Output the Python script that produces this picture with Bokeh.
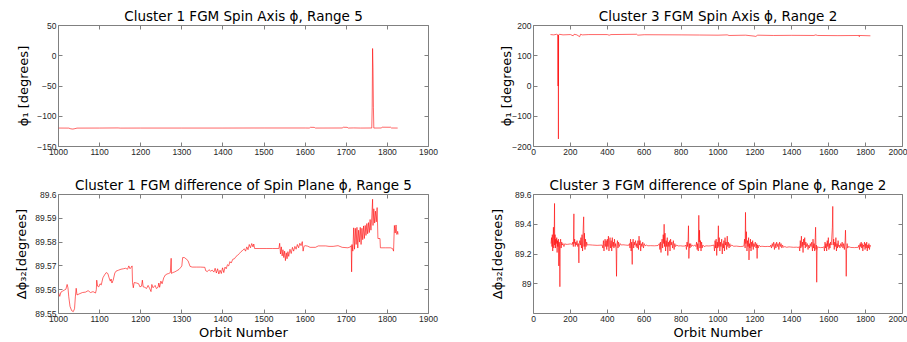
from bokeh.plotting import figure
from bokeh.layouts import column, row
from bokeh.models import FixedTicker, NumeralTickFormatter, LinearAxis, Range1d, CustomJSTickFormatter
from bokeh.embed import file_html
from bokeh.resources import INLINE

# ---------------- data ----------------
# Cluster 1, spin axis phi (range 5)
c1_phi_orbit = [1000, 1025, 1030, 1035, 1040, 1045, 1100, 1145, 1150, 1200, 1300, 1400, 1500,
                1600, 1610, 1613, 1622, 1625, 1690, 1693, 1702, 1705, 1718, 1735, 1760,
                1762, 1763, 1764, 1765, 1766, 1767, 1785, 1787, 1808, 1810, 1825]
c1_phi = [-119.5, -119.6, -120.8, -121.2, -120.5, -119.6, -119.5, -119.3, -119.6, -119.5, -119.5, -119.5, -119.4,
          -119.4, -119.5, -118.3, -118.4, -119.5, -119.4, -118.2, -118.3, -119.5, -119.3, -119.5, -119.4,
          -119.5, -85.0, 12.0, -20.0, -85.0, -119.5, -119.4, -118.1, -118.2, -119.4, -119.5]

# Cluster 3, spin axis phi (range 2)
c3_phi_orbit = [92, 110, 125, 132, 133, 134, 135, 136, 140, 160, 200, 215, 220, 235, 250, 255, 265,
                300, 400, 410, 420, 560, 565, 600, 800, 900, 1000, 1050, 1060, 1150, 1195, 1205,
                1215, 1300, 1400, 1520, 1530, 1540, 1650, 1765, 1766, 1767, 1826]
c3_phi = [170, 169, 171, 169, 0, 169, -175, 168, 171, 169, 170, 166, 171, 169, 163, 171, 169,
          170, 170, 168, 170, 171, 168, 169.5, 169, 168.5, 168, 169, 167, 168, 165, 164,
          168, 167, 167.5, 167, 169, 167, 166.5, 167, 163, 167, 166]

# Cluster 1, difference of spin plane phi (range 5)
c1_dphi_orbit = [1000, 1003, 1006, 1010, 1014, 1018, 1021, 1023, 1025, 1028, 1032, 1036, 1039, 1041, 1043, 1045,
                 1050, 1058, 1066, 1072, 1078, 1084, 1090, 1092, 1093, 1095, 1098, 1101, 1104, 1108, 1112,
                 1116, 1120, 1123, 1126, 1128, 1130, 1133, 1137, 1140, 1146, 1152, 1158, 1163, 1168, 1171,
                 1174, 1177, 1179, 1180, 1182, 1184, 1190, 1195, 1198, 1202, 1204, 1206, 1210, 1214, 1218,
                 1222, 1225, 1227, 1230, 1235, 1238, 1242, 1244, 1246, 1249, 1252, 1256, 1260, 1264, 1268,
                 1272, 1274, 1275, 1278, 1283, 1288, 1293, 1298, 1300, 1302, 1306, 1310, 1315, 1318, 1320,
                 1325, 1335, 1345, 1356, 1358, 1362, 1366, 1370, 1374, 1378, 1381, 1384, 1387, 1390, 1393,
                 1396, 1399, 1402, 1405, 1408, 1411, 1414, 1417, 1420, 1424, 1428, 1432, 1436, 1440, 1444,
                 1448, 1452, 1455, 1458, 1461, 1464, 1467, 1470, 1473, 1475, 1477, 1490, 1505, 1520, 1536,
                 1538, 1540, 1542, 1544, 1546, 1548, 1550, 1552, 1554, 1556, 1558, 1560, 1563, 1566, 1569,
                 1572, 1575, 1578, 1581, 1584, 1587, 1590, 1593, 1595, 1597, 1600, 1606, 1612, 1625, 1632,
                 1650, 1658, 1668, 1680, 1690, 1704, 1710, 1712, 1713, 1714, 1716, 1718, 1720, 1722, 1724,
                 1726, 1728, 1730, 1732, 1734, 1736, 1738, 1740, 1742, 1744, 1746, 1748, 1750, 1752, 1754,
                 1756, 1758, 1760, 1762, 1764, 1765, 1767, 1769, 1771, 1773, 1775, 1777, 1782, 1783, 1795,
                 1808, 1813, 1815, 1817, 1819, 1821, 1823, 1825, 1826]
c1_dphi = [89.5588, 89.5572, 89.5590, 89.5594, 89.5598, 89.5602, 89.5622, 89.5608, 89.5570, 89.5530, 89.5512,
           89.5508, 89.5520, 89.5570, 89.5606, 89.5578,
           89.5582, 89.5588, 89.5590, 89.5596, 89.5588, 89.5592, 89.5586, 89.5600, 89.5640, 89.5615, 89.5612,
           89.5625, 89.5620, 89.5650, 89.5662,
           89.5672, 89.5668, 89.5650, 89.5636, 89.5645, 89.5628, 89.5640, 89.5670, 89.5678, 89.5682, 89.5686,
           89.5688, 89.5690, 89.5686, 89.5700,
           89.5688, 89.5695, 89.5700, 89.5630, 89.5608, 89.5630, 89.5628, 89.5625, 89.5612, 89.5615, 89.5640,
           89.5612, 89.5610, 89.5605, 89.5618,
           89.5604, 89.5592, 89.5622, 89.5608, 89.5618, 89.5605, 89.5610, 89.5628, 89.5610, 89.5636, 89.5625,
           89.5650, 89.5662, 89.5666, 89.5668,
           89.5672, 89.5732, 89.5668, 89.5672, 89.5675, 89.5680, 89.5685, 89.5695, 89.5700, 89.5735, 89.5735,
           89.5730, 89.5722, 89.5708, 89.5698,
           89.5695, 89.5695, 89.5695, 89.5694, 89.5680, 89.5676, 89.5684, 89.5678, 89.5682, 89.5674, 89.5690,
           89.5670, 89.5688, 89.5666, 89.5682,
           89.5668, 89.5692, 89.5672, 89.5695, 89.5688, 89.5705, 89.5700, 89.5718, 89.5712, 89.5728, 89.5730,
           89.5740, 89.5745, 89.5752, 89.5760,
           89.5765, 89.5772, 89.5762, 89.5780, 89.5768, 89.5790, 89.5776, 89.5794, 89.5780, 89.5792, 89.5773,
           89.5773, 89.5773, 89.5773, 89.5773,
           89.5795, 89.5750, 89.5780, 89.5742, 89.5768, 89.5735, 89.5762, 89.5722, 89.5755, 89.5730, 89.5760,
           89.5740, 89.5770, 89.5752, 89.5778,
           89.5762, 89.5782, 89.5770, 89.5790, 89.5776, 89.5795, 89.5785, 89.5802, 89.5762, 89.5782, 89.5785,
           89.5783, 89.5778, 89.5778, 89.5784,
           89.5784, 89.5782, 89.5782, 89.5785, 89.5778, 89.5776, 89.5780, 89.5785, 89.5675, 89.5790, 89.5762,
           89.5860, 89.5770, 89.5858, 89.5790,
           89.5862, 89.5775, 89.5850, 89.5800, 89.5862, 89.5790, 89.5858, 89.5810, 89.5868, 89.5815, 89.5870,
           89.5828, 89.5878, 89.5835, 89.5882,
           89.5840, 89.5895, 89.5850, 89.5905, 89.5980, 89.5870, 89.5940, 89.5880, 89.5930, 89.5885, 89.5945,
           89.5815, 89.5815, 89.5776, 89.5776,
           89.5776, 89.5772, 89.5762, 89.5870, 89.5838, 89.5872, 89.5832, 89.5845, 89.5832]

# Cluster 3, difference of spin plane phi (range 2)
c3_dphi_orbit = [95, 98, 100, 102, 104, 106, 108, 110, 112, 114, 115, 117, 119, 121, 123, 126, 128, 130, 132,
                 135, 137, 139, 141, 143, 145, 147, 150, 153, 156, 160, 165, 170, 175,
                 185, 200, 210,
                 213, 216, 219, 220, 223, 226, 229, 232, 236, 240, 243, 246, 248, 251, 254, 257, 260, 263,
                 266, 269, 272, 274, 276, 279, 282, 285, 288, 292,
                 300, 320, 345, 372,
                 376, 379, 382, 385, 388, 391, 394, 397, 400, 403, 406, 409, 412, 415, 418, 421, 424, 427,
                 430, 433, 436, 439, 442, 445, 448, 450, 452, 455, 458, 461, 465, 470, 476, 485, 500,
                 515,
                 520, 523, 526, 529, 532, 535, 537, 540, 543, 546, 549, 553, 556, 559, 562, 566, 569, 572,
                 575, 578, 581, 584, 588, 592, 596, 600, 605, 612, 620, 635,
                 655, 675,
                 682, 685, 688, 691, 694, 697, 700, 703, 706, 708, 710, 713, 716, 719, 722, 725, 728, 731,
                 734, 737, 740, 743, 746, 750, 754, 758, 762, 766, 770, 775, 785, 797,
                 810, 822,
                 826, 829, 832, 835, 838, 840, 842, 845, 848, 852, 856, 860, 866, 874, 880, 884, 887, 890,
                 893, 896, 898, 900, 902, 905, 908, 911, 914, 918, 925, 935, 950, 960,
                 978, 981, 984, 987, 990, 993, 996, 999, 1002, 1004, 1007, 1010, 1013, 1016, 1020, 1023,
                 1026, 1029, 1032, 1035, 1038, 1041, 1044, 1047, 1050, 1053, 1056, 1060, 1064, 1068, 1074,
                 1085, 1100,
                 1120, 1138,
                 1141, 1144, 1147, 1149, 1151, 1154, 1157, 1160, 1163, 1166, 1168, 1170, 1173, 1176, 1179,
                 1182, 1185, 1188, 1191, 1194, 1198, 1202, 1206, 1210, 1212, 1214, 1218, 1222, 1228, 1238,
                 1255, 1270, 1283,
                 1286, 1290, 1294, 1298, 1302, 1306, 1310, 1314, 1318, 1322, 1326, 1330, 1334, 1338, 1342,
                 1346, 1350, 1355, 1362, 1372, 1385, 1392,
                 1410, 1425, 1436,
                 1440, 1443, 1446, 1449, 1452, 1455, 1458, 1461, 1464, 1467, 1470, 1473, 1476, 1480, 1484,
                 1488, 1492, 1496, 1500, 1504, 1508, 1512, 1515, 1518, 1521, 1524, 1527, 1529, 1531, 1533,
                 1535, 1537, 1540, 1545,
                 1555, 1570,
                 1574, 1577, 1580, 1583, 1586, 1589, 1592, 1595, 1598, 1601, 1604, 1607, 1610, 1613, 1616,
                 1620, 1622, 1624, 1627, 1630, 1633, 1636, 1639, 1642, 1645, 1648, 1651, 1654, 1657, 1661,
                 1665, 1669, 1673, 1677, 1681, 1685, 1689, 1691, 1693, 1695, 1697, 1700, 1703, 1707,
                 1720, 1740, 1760,
                 1764, 1767, 1770, 1773, 1776, 1779, 1782, 1785, 1788, 1791, 1794, 1797, 1800, 1803, 1806,
                 1809, 1812, 1815, 1818, 1821, 1824, 1826]
c3_dphi = [89.27, 89.31, 89.25, 89.33, 89.22, 89.29, 89.38, 89.24, 89.30, 89.54, 89.26, 89.33, 89.24, 89.30,
           89.27, 89.31, 89.21, 89.29, 89.25, 89.30, 89.12, 89.28, 89.26, 88.98, 89.27, 89.30, 89.24, 89.28,
           89.26, 89.27, 89.25, 89.27, 89.265,
           89.265, 89.268, 89.265,
           89.28, 89.25, 89.47, 89.27, 89.30, 89.25, 89.28, 89.26, 89.29, 89.25, 89.27, 89.14, 89.27, 89.29,
           89.26, 89.31, 89.24, 89.33, 89.22, 89.36, 89.45, 89.25, 89.34, 89.23, 89.30, 89.25, 89.28, 89.26,
           89.262, 89.26, 89.258, 89.26,
           89.24, 89.29, 89.22, 89.27, 89.30, 89.25, 89.29, 89.23, 89.30, 89.25, 89.32, 89.22, 89.28, 89.31,
           89.24, 89.29, 89.22, 89.31, 89.25, 89.28, 89.24, 89.30, 89.25, 89.27, 89.22, 89.05, 89.26, 89.29,
           89.24, 89.28, 89.25, 89.27, 89.26, 89.262, 89.26,
           89.258,
           89.27, 89.24, 89.30, 89.22, 89.28, 89.13, 89.27, 89.30, 89.24, 89.28, 89.26, 89.29, 89.25, 89.27,
           89.24, 89.29, 89.23, 89.32, 89.26, 89.29, 89.22, 89.27, 89.25, 89.28, 89.24, 89.27, 89.255, 89.26,
           89.255, 89.256,
           89.255, 89.257,
           89.27, 89.23, 89.28, 89.21, 89.27, 89.30, 89.24, 89.33, 89.27, 89.40, 89.25, 89.34, 89.22, 89.29,
           89.25, 89.31, 89.19, 89.28, 89.25, 89.29, 89.22, 89.30, 89.26, 89.28, 89.24, 89.29, 89.23, 89.27,
           89.25, 89.26, 89.254, 89.255,
           89.253, 89.254,
           89.26, 89.23, 89.28, 89.25, 89.30, 89.39, 89.17, 89.27, 89.24, 89.27, 89.25, 89.26, 89.254, 89.26,
           89.25, 89.28, 89.23, 89.27, 89.22, 89.46, 89.28, 89.36, 89.24, 89.29, 89.22, 89.28, 89.24, 89.26,
           89.25, 89.255, 89.254, 89.255,
           89.26, 89.22, 89.29, 89.24, 89.30, 89.19, 89.28, 89.24, 89.39, 89.25, 89.31, 89.22, 89.28, 89.25,
           89.30, 89.20, 89.27, 89.24, 89.29, 89.22, 89.31, 89.26, 89.28, 89.23, 89.32, 89.25, 89.28, 89.24,
           89.27, 89.25, 89.26, 89.252, 89.253,
           89.25, 89.252,
           89.26, 89.30, 89.24, 89.48, 89.27, 89.35, 89.22, 89.29, 89.25, 89.31, 89.16, 89.27, 89.24, 89.30,
           89.22, 89.28, 89.25, 89.29, 89.23, 89.27, 89.25, 89.28, 89.24, 89.27, 89.17, 89.26, 89.24, 89.26,
           89.25, 89.252,
           89.25, 89.251, 89.25,
           89.26, 89.24, 89.27, 89.25, 89.28, 89.23, 89.27, 89.24, 89.28, 89.25, 89.27, 89.23, 89.28, 89.25,
           89.27, 89.24, 89.26, 89.245, 89.25, 89.245, 89.248, 89.247,
           89.245, 89.246, 89.244,
           89.25, 89.22, 89.29, 89.24, 89.32, 89.25, 89.28, 89.21, 89.30, 89.26, 89.31, 89.24, 89.28, 89.25,
           89.27, 89.23, 89.26, 89.24, 89.27, 89.25, 89.28, 89.22, 89.30, 89.24, 89.27, 89.22, 89.31, 89.38,
           89.23, 89.26, 89.01, 89.22, 89.25, 89.245,
           89.243, 89.244,
           89.25, 89.22, 89.28, 89.24, 89.27, 89.22, 89.29, 89.25, 89.31, 89.23, 89.27, 89.24, 89.28, 89.26,
           89.30, 89.38, 89.52, 89.26, 89.30, 89.23, 89.28, 89.25, 89.31, 89.22, 89.27, 89.24, 89.29, 89.25,
           89.26, 89.24, 89.27, 89.25, 89.28, 89.24, 89.27, 89.23, 89.29, 89.36, 89.25, 89.05, 89.23, 89.27,
           89.24, 89.25,
           89.244, 89.243, 89.245,
           89.26, 89.23, 89.27, 89.25, 89.28, 89.24, 89.27, 89.22, 89.26, 89.25, 89.28, 89.23, 89.27, 89.24,
           89.28, 89.22, 89.26, 89.24, 89.27, 89.23, 89.26, 89.25]

titles = ["Cluster 1 FGM Spin Axis \u03d5, Range 5",
          "Cluster 3 FGM Spin Axis \u03d5, Range 2",
          "Cluster 1 FGM difference of Spin Plane \u03d5, Range 5",
          "Cluster 3 FGM difference of Spin Plane \u03d5, Range 2"]
ylabel_top = "\u03d5\u2081 [degrees]"
ylabel_bot = "\u0394\u03d5\u2083\u2082[degrees]"
xlabel = "Orbit Number"

xticks_c1 = [1000, 1100, 1200, 1300, 1400, 1500, 1600, 1700, 1800, 1900]
xticks_c3 = [0, 200, 400, 600, 800, 1000, 1200, 1400, 1600, 1800, 2000]
yticks_tl = [-150, -100, -50, 0, 50]
yticks_tr = [-200, -100, 0, 100, 200]
yticks_bl = [89.55, 89.56, 89.57, 89.58, 89.59, 89.6]
yticks_br = [89.0, 89.2, 89.4, 89.6]

GRAY = "#808080"
TXT = "#262626"
LINE = "#ff0000"
LW = 0.6


def style_axis(ax, ticks, labels=True):
    ax.ticker = FixedTicker(ticks=ticks)
    ax.axis_line_color = None
    ax.major_tick_in = 4
    ax.major_tick_out = 0
    ax.major_tick_line_color = GRAY
    ax.minor_tick_line_color = None
    ax.major_label_text_font = "Liberation Sans"
    ax.major_label_text_font_size = "8.5px"
    ax.major_label_text_color = TXT
    ax.major_label_standoff = 2
    ax.axis_label_text_font = "DejaVu Sans"
    ax.axis_label_text_font_size = "13px"
    ax.axis_label_text_font_style = "normal"
    ax.axis_label_text_color = "#000000"
    if not labels:
        ax.formatter = CustomJSTickFormatter(code="return ''")
        ax.major_label_standoff = 0
        ax.major_label_text_font_size = "1px"


def make(title, w, h, bl, br, bt, bb, xr, yr, xt, yt, ylab, ystand, xlab=None, yfmt=None):
    p = figure(width=w, height=h, output_backend="svg", toolbar_location=None,
               x_range=Range1d(*xr), y_range=Range1d(*yr),
               min_border_left=bl, min_border_right=br, min_border_top=bt, min_border_bottom=bb)
    p.title.text = title
    p.title.text_font = "DejaVu Sans"
    p.title.text_font_size = "13.5px"
    p.title.text_font_style = "normal"
    p.title.text_color = "#000000"
    p.title.align = "center"
    p.title.standoff = 3
    p.grid.grid_line_color = None
    p.outline_line_color = GRAY
    p.outline_line_width = 1
    p.background_fill_color = "white"
    p.border_fill_color = "white"
    style_axis(p.xaxis[0], xt)
    style_axis(p.yaxis[0], yt)
    if yfmt is not None:
        p.yaxis[0].formatter = yfmt
    p.yaxis[0].axis_label = ylab
    p.yaxis[0].axis_label_standoff = ystand
    if xlab:
        p.xaxis[0].axis_label = xlab
        p.xaxis[0].axis_label_standoff = 0
    top = LinearAxis()
    style_axis(top, xt, labels=False)
    p.add_layout(top, "above")
    right = LinearAxis()
    style_axis(right, yt, labels=False)
    p.add_layout(right, "right")
    return p


p1 = make(titles[0], 450, 165, 58, 22, 25, 19, (1000, 1900), (-150, 50), xticks_c1, yticks_tl,
          ylabel_top, 3)
p1.line(c1_phi_orbit, c1_phi, line_color=LINE, line_width=LW)

p2 = make(titles[1], 457, 165, 83, 5, 25, 19, (0, 2000), (-200, 200), xticks_c3, yticks_tr,
          ylabel_top, -5)
p2.line(c3_phi_orbit, c3_phi, line_color=LINE, line_width=LW)

p3 = make(titles[2], 450, 177, 58, 22, 29, 27, (1000, 1900), (89.55, 89.6), xticks_c1, yticks_bl,
          ylabel_bot, 3, xlab=xlabel, yfmt=NumeralTickFormatter(format="0.[00]"))
p3.line(c1_dphi_orbit, c1_dphi, line_color=LINE, line_width=LW)

p4 = make(titles[3], 457, 177, 83, 5, 29, 27, (0, 2000), (88.8, 89.6), xticks_c3, yticks_br,
          ylabel_bot, 7, xlab=xlabel, yfmt=NumeralTickFormatter(format="0.[00]"))
p4.line(c3_dphi_orbit, c3_dphi, line_color=LINE, line_width=LW)

layout = column(row(p1, p2), row(p3, p4))
open("out.html", "w").write(file_html(layout, INLINE))
